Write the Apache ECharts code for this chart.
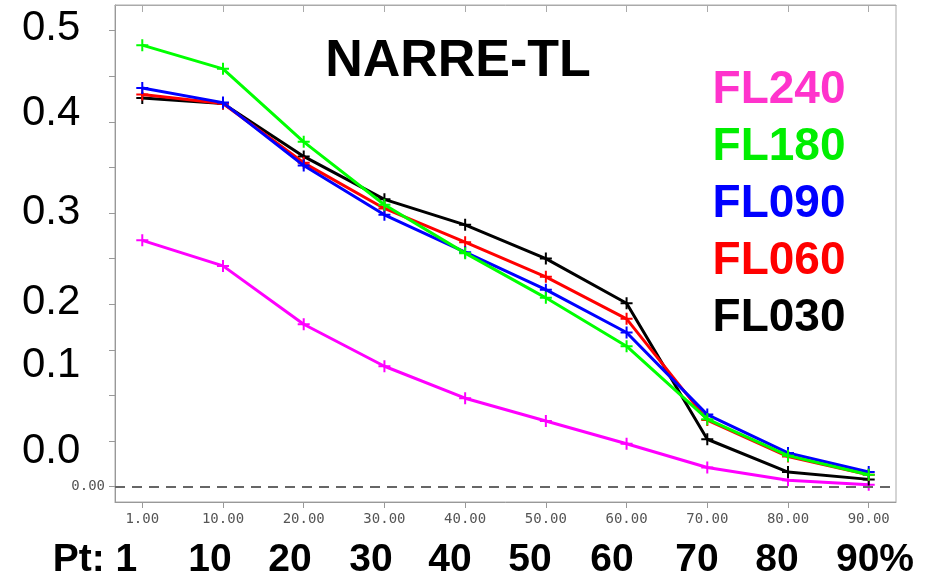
<!DOCTYPE html>
<html>
<head>
<meta charset="utf-8">
<script src="https://cdn.jsdelivr.net/npm/echarts@6/dist/echarts.min.js"></script>
<style>
  html, body { margin: 0; padding: 0; background: #fff; }
  #chart { width: 940px; height: 581px; }
</style>
</head>
<body>
<div id="chart"></div>
<script>
// Percentile points along the x axis and their tick labels
const percentiles = [1, 10, 20, 30, 40, 50, 60, 70, 80, 90];
const xTickLabels = ['1.00', '10.00', '20.00', '30.00', '40.00', '50.00', '60.00', '70.00', '80.00', '90.00'];
const ptLabels = ['Pt: 1', '10', '20', '30', '40', '50', '60', '70', '80', '90%'];
const bigYLabels = ['0.5', '0.4', '0.3', '0.2', '0.1', '0.0'];

// Scores per flight level
const fl240 = [0.270, 0.242, 0.178, 0.132, 0.097, 0.072, 0.047, 0.021, 0.007, 0.002];
const fl180 = [0.484, 0.458, 0.378, 0.309, 0.256, 0.207, 0.154, 0.074, 0.034, 0.013];
const fl090 = [0.437, 0.421, 0.352, 0.298, 0.257, 0.216, 0.169, 0.079, 0.037, 0.016];
const fl060 = [0.430, 0.420, 0.355, 0.305, 0.268, 0.230, 0.184, 0.073, 0.033, 0.013];
const fl030 = [0.426, 0.420, 0.362, 0.315, 0.287, 0.250, 0.201, 0.052, 0.016, 0.008];

const seriesDefs = [
  { name: 'FL240', data: fl240, color: '#ff00ff', text: '#ff33cc' },
  { name: 'FL030', data: fl030, color: '#000000', text: '#000000' },
  { name: 'FL060', data: fl060, color: '#ff0000', text: '#ff0000' },
  { name: 'FL090', data: fl090, color: '#0000ff', text: '#0000ff' },
  { name: 'FL180', data: fl180, color: '#00ff00', text: '#00ee00' }
];
const legendOrder = ['FL240', 'FL180', 'FL090', 'FL060', 'FL030'];

const plusPath = 'path://M-1,-6 H1 V-1 H6 V1 H1 V6 H-1 V1 H-6 V-1 H-1 Z';
const tickValues = [0, 0.05, 0.10, 0.15, 0.20, 0.25, 0.30, 0.35, 0.40, 0.45, 0.50];
const idx = percentiles.map((p, i) => i);

const chart = echarts.init(document.getElementById('chart'), null, { renderer: 'canvas' });

const series = seriesDefs.map((s, k) => ({
  name: s.name,
  type: 'line',
  data: s.data.map((v, i) => [i, v]),
  symbol: plusPath,
  symbolSize: 12,
  showSymbol: true,
  lineStyle: { color: s.color, width: 3 },
  itemStyle: { color: s.color },
  z: 3 + k,
  animation: false,
  markLine: k === 0 ? {
    silent: true,
    symbol: 'none',
    label: { show: false },
    lineStyle: { color: '#666', type: [10, 7], width: 2 },
    data: [{ yAxis: 0 }],
    animation: false
  } : undefined
}));

const graphics = [];
const bigY = [28, 113, 212, 302, 365, 451];
bigYLabels.forEach((t, i) => {
  graphics.push({ type: 'text', x: 22, y: bigY[i],
    style: { text: t, font: '42px "Liberation Sans", Arial, sans-serif', fill: '#000',
      verticalAlign: 'middle' } });
});
const ptX = [95, 210, 290, 371, 450, 530, 612, 697, 777, 875];
ptLabels.forEach((t, i) => {
  graphics.push({ type: 'text', x: ptX[i], y: 560,
    style: { text: t, font: 'bold 39px "Liberation Sans", Arial, sans-serif', fill: '#000',
      align: 'center', verticalAlign: 'middle' } });
});
graphics.push({ type: 'text', x: 458, y: 62,
  style: { text: 'NARRE-TL', font: 'bold 52px "Liberation Sans", Arial, sans-serif', fill: '#000',
    align: 'center', verticalAlign: 'middle' } });
legendOrder.forEach((name, i) => {
  const s = seriesDefs.find(d => d.name === name);
  graphics.push({ type: 'text', x: 779, y: 90 + i * 57,
    style: { text: name, font: 'bold 46px "Liberation Sans", Arial, sans-serif', fill: s.text,
      align: 'center', verticalAlign: 'middle' } });
});

const smallFont = { color: '#555', fontSize: 14, fontFamily: '"DejaVu Sans Mono", monospace' };

chart.setOption({
  animation: false,
  backgroundColor: '#fff',
  grid: { left: 115, top: 5, right: 44, bottom: 79, show: true, borderColor: '#aaa', borderWidth: 1 },
  xAxis: [{
    type: 'value', min: -0.338, max: 9.338, position: 'bottom',
    axisLine: { show: true, onZero: false, lineStyle: { color: '#999' } },
    axisTick: { show: true, length: 6, lineStyle: { color: '#999' }, customValues: idx },
    axisLabel: Object.assign({ show: true, customValues: idx,
      formatter: v => xTickLabels[Math.round(v)], margin: 10 }, smallFont),
    splitLine: { show: false }
  }, {
    type: 'value', min: -0.338, max: 9.338, position: 'top',
    axisLine: { show: true, onZero: false, lineStyle: { color: '#aaa' } },
    axisTick: { show: true, inside: true, length: 7, lineStyle: { color: '#aaa' }, customValues: idx },
    axisLabel: { show: false },
    splitLine: { show: false }
  }],
  yAxis: {
    type: 'value', min: -0.0168, max: 0.528,
    axisLine: { show: true, onZero: false, lineStyle: { color: '#999' } },
    axisTick: { show: true, length: 6, lineStyle: { color: '#999' }, customValues: tickValues },
    axisLabel: Object.assign({ show: true, customValues: [0],
      formatter: v => v.toFixed(2), margin: 10 }, smallFont),
    splitLine: { show: false }
  },
  series: series,
  graphic: graphics
});
</script>
</body>
</html>
